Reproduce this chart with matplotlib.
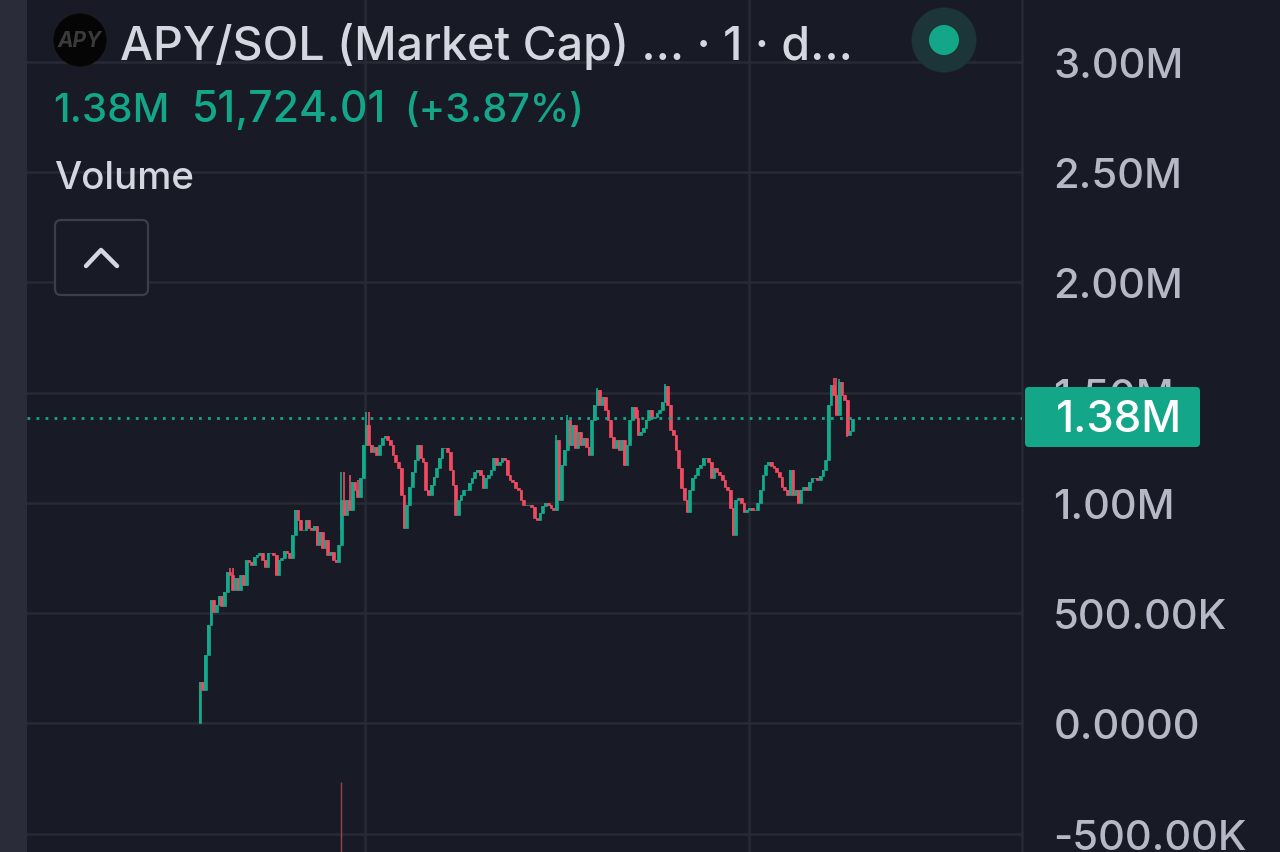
import matplotlib
matplotlib.use('Agg')
import matplotlib.pyplot as plt
from matplotlib.patches import Circle, FancyBboxPatch, Rectangle

# ---------- Style ----------
BG = '#181b26'
LEFT_BAR = '#2a2d39'
GRID = '#272a35'
GREEN = '#14a688'
UP = '#14a98b'
DOWN = '#ee4a60'
TEXT = '#d5d7e0'
TICK = '#b6b9c5'
plt.rcParams['font.family'] = ['Inter', 'DejaVu Sans']

# ---------- Data (thousands) ----------
closes = [
    188, 152, 310, 447, 560, 505, 537, 578, 533, 596,
    687, 673, 605, 660, 605, 673, 628, 741, 732, 718,
    755, 764, 773, 741, 710, 773, 773, 764, 673, 741,
    750, 782, 773, 750, 855, 968, 922, 877, 877, 922,
    886, 877, 895, 810, 868, 796, 832, 764, 778, 741,
    732, 810, 1013, 945, 1013, 968, 1095, 1058, 1027, 1113,
    1262, 1353, 1262, 1231, 1254, 1217, 1262, 1294, 1303, 1285,
    1262, 1217, 1186, 1158, 1036, 885, 991, 1072, 1140, 1195,
    1262, 1204, 1186, 1058, 1036, 1081, 1118, 1158, 1204, 1249,
    1249, 1231, 1149, 1081, 945, 1013, 1036, 1058, 1058, 1090,
    1113, 1140, 1149, 1127, 1068, 1113, 1127, 1149, 1204, 1172,
    1186, 1204, 1195, 1127, 1104, 1095, 1068, 1058, 1013, 991,
    991, 991, 982, 932, 922, 955, 986, 999, 991, 977,
    968, 1285, 1013, 1172, 1240, 1376, 1262, 1353, 1249, 1322,
    1262, 1294, 1254, 1217, 1376, 1444, 1512, 1444, 1480, 1421,
    1376, 1299, 1249, 1285, 1240, 1285, 1172, 1262, 1376, 1435,
    1385, 1308, 1322, 1340, 1376, 1421, 1385, 1390, 1408, 1421,
    1458, 1530, 1444, 1331, 1308, 1240, 1158, 1068, 1013, 959,
    1058, 1113, 1127, 1158, 1172, 1204, 1204, 1186, 1113, 1158,
    1140, 1127, 1104, 1072, 1058, 977, 855, 1013, 1022, 999,
    959, 968, 977, 968, 968, 999, 1058, 1127, 1172, 1186,
    1168, 1158, 1140, 1118, 1072, 1058, 1036, 1149, 1036, 1058,
    999, 1058, 1072, 1058, 1095, 1113, 1113, 1104, 1122, 1149,
    1195, 1444, 1535, 1489, 1399, 1548, 1489, 1467, 1308, 1326, 1380,
]
first_open = 0
# wicks that stick out of the bodies: bar -> value
high_wicks = {11: 705, 12: 705, 52: 1140, 53: 1140, 55: 1127, 58: 1104, 61: 1412,
              62: 1412, 131: 1308, 135: 1399, 138: 1353, 146: 1521, 161: 1421,
              171: 1540, 233: 1566, 234: 1566, 235: 1560}
low_wicks = {52: 877, 75: 885, 131: 968, 217: 1036, 238: 1300}

volume_bar = 52
volume_top = -265
volume_bottom = -590

price_ticks = [-500, 0, 500, 1000, 1500, 2000, 2500, 3000]
price_labels = ['-500.00K', '0.0000', '500.00K', '1.00M', '1.50M', '2.00M', '2.50M', '3.00M']
time_ticks = [60.7, 201.8]
last_price = 1385

# ---------- Figure ----------
fig = plt.figure(figsize=(12.8, 8.53), dpi=100, facecolor=BG)
W, H = 1280, 853
ax = fig.add_axes([27 / W, 0, (1022 - 27) / W, 1], facecolor=BG)

# bar spacing 2.72 px, first bar at x=200 px
ax.set_xlim((27 - 200) / 2.72, (1022 - 200) / 2.72)
ax.set_ylim(-583, 3284)

opens = [first_open] + closes[:-1]
for i, (o, c) in enumerate(zip(opens, closes)):
    col = UP if c >= o else DOWN
    hi = high_wicks.get(i, max(o, c))
    lo = low_wicks.get(i, min(o, c))
    ax.vlines(i, lo, hi, color=col, lw=1.2, zorder=3)
    ax.bar(i, abs(c - o), bottom=min(o, c), width=1.0, color=col, edgecolor=col,
           linewidth=0.5, zorder=3)

ax.vlines(volume_bar, volume_bottom, volume_top, color='#a03a50', lw=1.0, zorder=2)
ax.axhline(last_price, color=GREEN, lw=2.0, ls=(0, (1, 2.25)), zorder=4)

ax.set_yticks(price_ticks)
ax.set_yticklabels(price_labels)
ax.yaxis.tick_right()
ax.tick_params(axis='y', length=0, pad=22.5, labelsize=30, labelcolor=TICK)
for lab in ax.get_yticklabels():
    lab.set_fontweight('medium')
ax.set_xticks(time_ticks)
ax.tick_params(axis='x', length=0, labelbottom=False)
ax.grid(True, color=GRID, lw=1.8)
ax.set_axisbelow(True)
for name, s in ax.spines.items():
    s.set_visible(name == 'right')
    s.set_color(GRID)
    s.set_linewidth(1.8)

# ---------- Overlay in image pixels ----------
ui = fig.add_axes([0, 0, 1, 1], facecolor='none')
ui.set_xlim(0, W)
ui.set_ylim(H, 0)
ui.axis('off')

ui.add_patch(Rectangle((0, 0), 27, H, color=LEFT_BAR, lw=0))

# logo
ui.add_patch(Circle((80, 41), 26.5, color='#050505', lw=0))
ui.text(80, 41, 'APY', color='#3a3a3a', fontsize=15, fontweight='bold', style='italic',
        ha='center', va='center')

# header
ui.text(120, 60, 'APY/SOL (Market Cap) ... · 1 · d...', color=TEXT, fontsize=33.5,
        fontweight='medium', ha='left', va='baseline')
ui.text(53, 122, '1.38M', color=GREEN, fontsize=29, fontweight='medium', va='baseline')
ui.text(192, 122, '51,724.01', color=GREEN, fontsize=30.8, fontweight='medium', va='baseline')
ui.text(404, 122, '(+3.87%)', color=GREEN, fontsize=28.6, fontweight='medium', va='baseline')
ui.text(54, 189, 'Volume', color=TEXT, fontsize=27.7, fontweight='medium', va='baseline')

# collapse button
ui.add_patch(FancyBboxPatch((59, 225), 85, 67, boxstyle='round,pad=4,rounding_size=6',
                            fc=BG, ec='#3c3f4b', lw=1.6))
ui.plot([86, 101, 117], [267, 251, 267], color=TEXT, lw=3.2, solid_capstyle='round',
        solid_joinstyle='round')

# status dot
ui.add_patch(Circle((944, 41), 32.5, color='#1c3539', lw=0))
ui.add_patch(Circle((944, 41), 15, color=GREEN, lw=0))

# last price tag
ui.add_patch(FancyBboxPatch((1029, 392), 167, 52, boxstyle='round,pad=4,rounding_size=4',
                            fc=GREEN, ec='none'))
ui.text(1119.5, 421, '1.38M', color='white', fontsize=31.5, fontweight='medium', ha='center', va='center')

fig.savefig('out.png', dpi=100, facecolor=BG)
